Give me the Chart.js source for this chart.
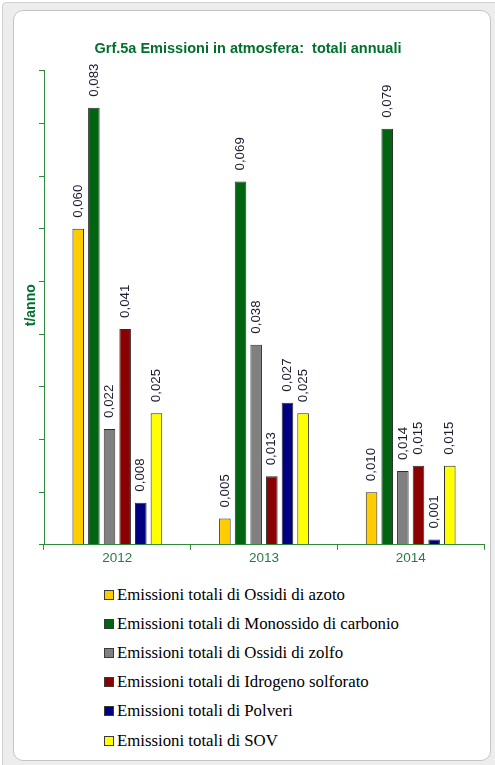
<!DOCTYPE html>
<html>
<head>
<meta charset="utf-8">
<script src="https://cdn.jsdelivr.net/npm/chart.js@4.4.1/dist/chart.umd.min.js"></script>
<style>
  html, body { margin:0; padding:0; background:#ffffff; width:495px; height:765px; overflow:hidden; }
  #outer { position:absolute; left:2px; top:2px; width:500px; height:770px; background:#ededed; border:1px solid #d2d2d2; border-radius:4px; box-sizing:border-box; }
  #inner { position:absolute; left:13px; top:10px; width:478px; height:751px; background:#ffffff; border:1px solid #c4c4c4; border-radius:10px; box-sizing:border-box; }
  #chartCanvas { position:absolute; left:0; top:0; }
  #legend { position:absolute; left:104px; top:580px; font-family:"Liberation Serif", "Times New Roman", serif; font-size:16.8px; color:#000; }
  .item { height:29.2px; display:flex; align-items:center; white-space:nowrap; }
  .box { width:8px; height:8px; border:1px solid #3a3a3a; margin-right:3px; flex:none; }
</style>
</head>
<body>
<div id="outer"></div>
<div id="inner"></div>
<canvas id="chartCanvas" width="495" height="570" style="width:495px;height:570px;"></canvas>
<div id="legend"></div>
<script>
const categories = ["2012", "2013", "2014"];
const seriesNames = [
  "Emissioni totali di Ossidi di azoto",
  "Emissioni totali di Monossido di carbonio",
  "Emissioni totali di Ossidi di zolfo",
  "Emissioni totali di Idrogeno solforato",
  "Emissioni totali di Polveri",
  "Emissioni totali di SOV"
];
const ossidiAzoto = [0.060, 0.005, 0.010];
const monossidoCarbonio = [0.083, 0.069, 0.079];
const ossidiZolfo = [0.022, 0.038, 0.014];
const idrogenoSolforato = [0.041, 0.013, 0.015];
const polveri = [0.008, 0.027, 0.001];
const sov = [0.025, 0.025, 0.015];
const seriesColors = ["#FFCC00", "#006411", "#808080", "#8B0000", "#000080", "#FFFF00"];
const chartTitle = "Grf.5a Emissioni in atmosfera:  totali annuali";
const yAxisTitle = "t/anno";

const seriesValues = [ossidiAzoto, monossidoCarbonio, ossidiZolfo, idrogenoSolforato, polveri, sov];

const datasets = seriesNames.map((name, i) => ({
  label: name,
  data: seriesValues[i],
  backgroundColor: seriesColors[i],
  borderColor: "#2e2e2e",
  borderWidth: 1,
  barPercentage: 0.74,
  categoryPercentage: 0.64
}));

const green = "#00702c";

const extrasPlugin = {
  id: "extras",
  afterDatasetsDraw(chart) {
    const ctx = chart.ctx;
    ctx.save();
    ctx.font = '13.3px "Liberation Sans", Arial, sans-serif';
    ctx.fillStyle = "#1c1c30";
    ctx.textAlign = "left";
    ctx.textBaseline = "middle";
    chart.data.datasets.forEach((ds, i) => {
      const meta = chart.getDatasetMeta(i);
      meta.data.forEach((bar, j) => {
        const v = ds.data[j];
        const txt = v.toFixed(3).replace(".", ",");
        ctx.save();
        ctx.translate(bar.x, bar.y - 11);
        ctx.rotate(-Math.PI / 2);
        ctx.fillText(txt, 0, 0);
        ctx.restore();
      });
    });
    // y axis title
    const yScale = chart.scales.y;
    ctx.font = 'bold 14px "Liberation Sans", Arial, sans-serif';
    ctx.fillStyle = green;
    ctx.textAlign = "center";
    ctx.textBaseline = "middle";
    ctx.save();
    ctx.translate(yScale.right - 13, yScale.getPixelForValue(0.0455));
    ctx.rotate(-Math.PI / 2);
    ctx.fillText(yAxisTitle, 0, 0);
    ctx.restore();
    ctx.restore();
  }
};

const chart = new Chart(document.getElementById("chartCanvas"), {
  type: "bar",
  data: { labels: categories, datasets: datasets },
  options: {
    responsive: false,
    animation: false,
    devicePixelRatio: 1,
    layout: { padding: { left: 12, right: 11, top: 0, bottom: 4 } },
    plugins: {
      legend: { display: false },
      tooltip: { enabled: false },
      title: {
        display: true,
        text: chartTitle,
        color: green,
        font: { family: '"Liberation Sans", Arial, sans-serif', size: 14.5, weight: "bold" },
        padding: { top: 40, bottom: 13.5 }
      }
    },
    scales: {
      x: {
        grid: { display: true, drawOnChartArea: false, drawTicks: true, tickLength: 5, color: "#2f8a3c", offset: true },
        border: { display: true, color: "#2f8a3c", width: 1 },
        ticks: { color: "#2a7a45", padding: 0, font: { family: '"Liberation Sans", Arial, sans-serif', size: 13.5 } }
      },
      y: {
        min: 0,
        max: 0.09,
        afterFit: (scale) => { scale.width = 32; },
        grid: { display: true, drawOnChartArea: false, drawTicks: true, tickLength: 5, color: "#2f8a3c" },
        border: { display: true, color: "#2f8a3c", width: 1 },
        ticks: { display: false, stepSize: 0.01 }
      }
    }
  },
  plugins: [extrasPlugin]
});

const legendEl = document.getElementById("legend");
seriesNames.forEach((name, i) => {
  const row = document.createElement("div");
  row.className = "item";
  const box = document.createElement("span");
  box.className = "box";
  box.style.background = seriesColors[i];
  const label = document.createElement("span");
  label.textContent = name;
  row.appendChild(box);
  row.appendChild(label);
  legendEl.appendChild(row);
});
</script>
</body>
</html>
